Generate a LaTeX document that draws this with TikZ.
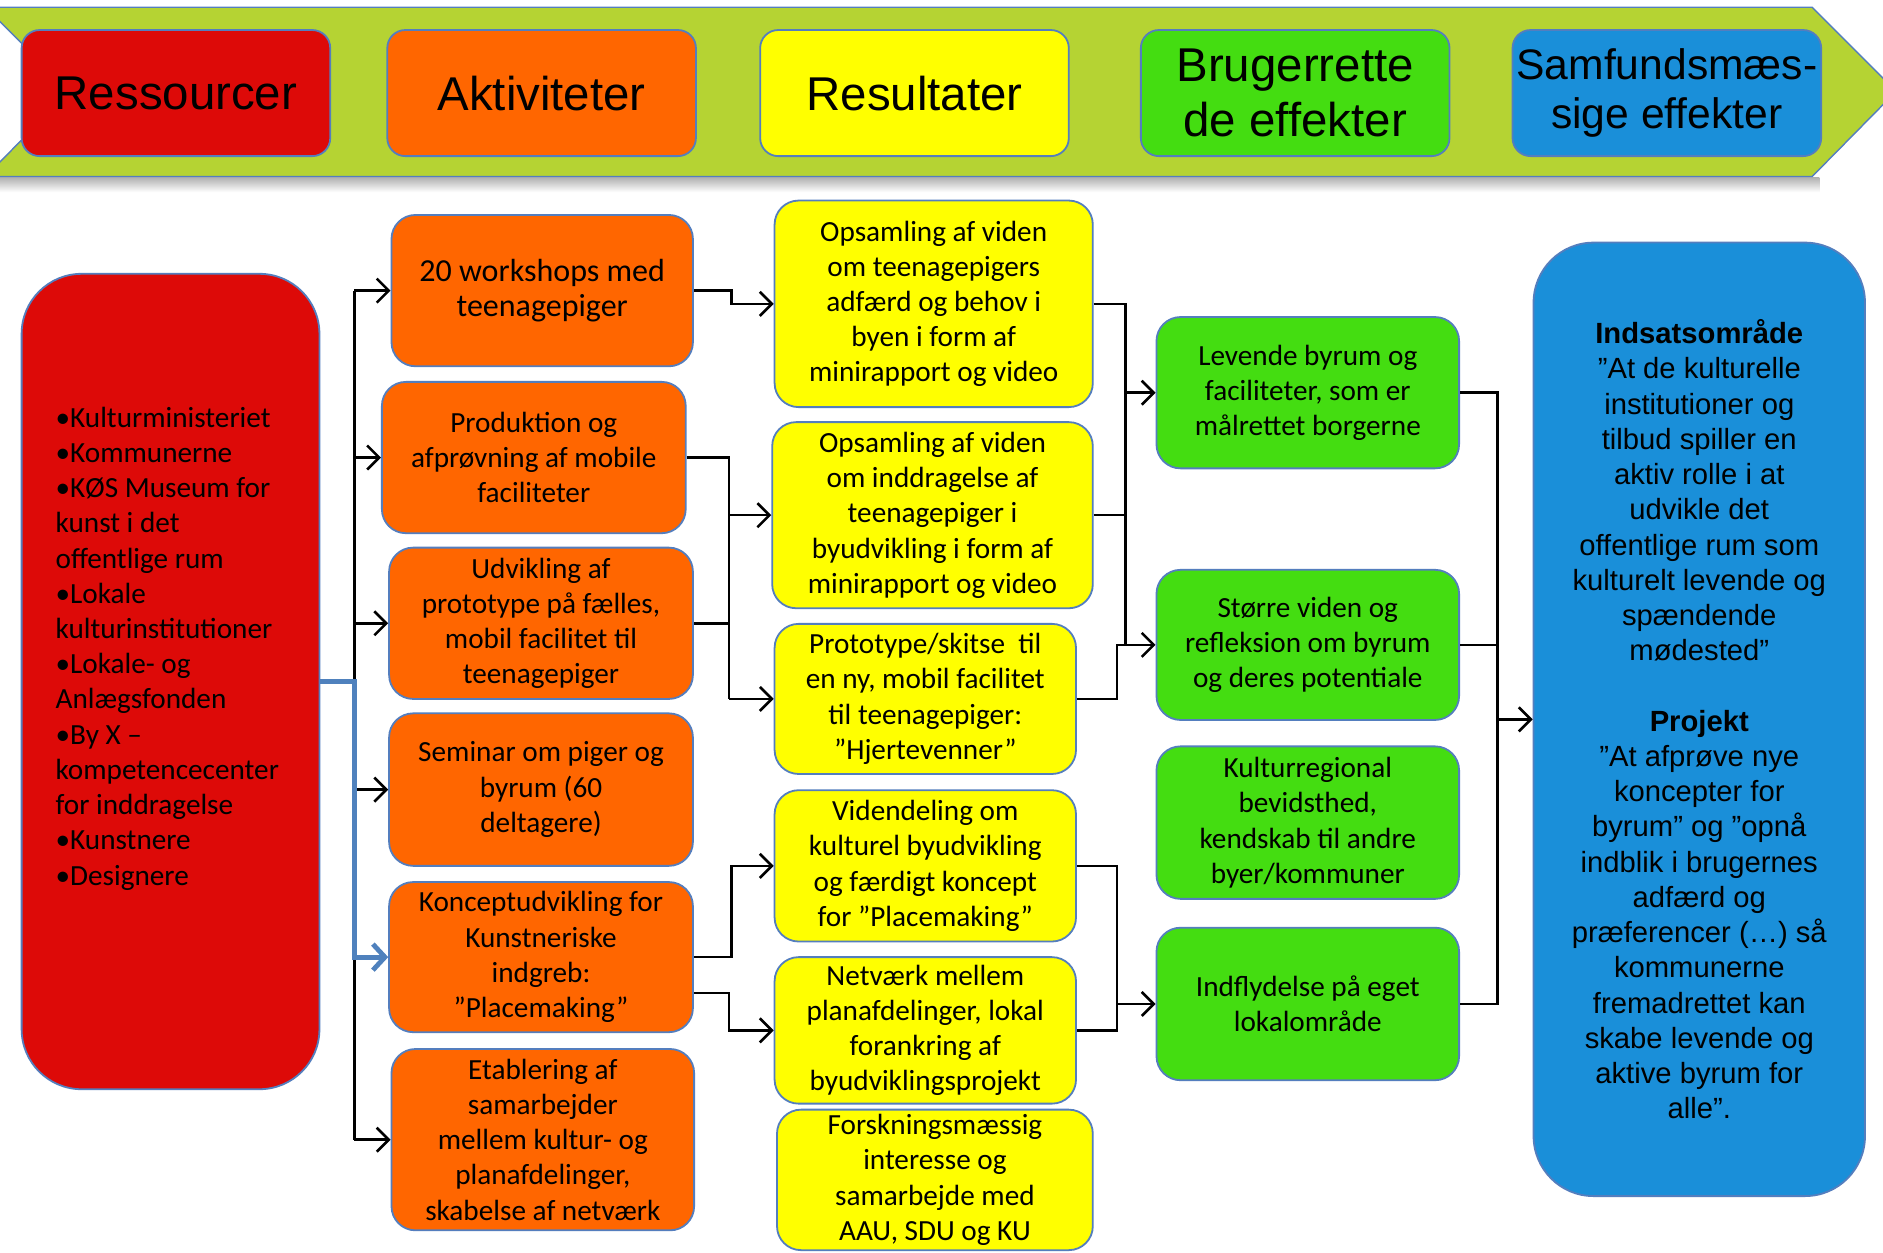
\documentclass[tikz,border=0pt]{standalone}
\usepackage{fontspec}
\setmainfont{Carlito}
\newfontfamily\arialf{Liberation Sans}
\usetikzlibrary{arrows.meta,calc}
\definecolor{bannerc}{RGB}{181,211,51}
\definecolor{bordc}{RGB}{84,126,190}
\definecolor{redc}{RGB}{221,10,8}
\definecolor{oranc}{RGB}{255,102,0}
\definecolor{yelc}{RGB}{255,255,0}
\definecolor{grnc}{RGB}{68,221,17}
\definecolor{bluec}{RGB}{26,143,217}
\definecolor{blueln}{RGB}{79,129,189}
\newcommand\mybody{\fontsize{14.6}{17.6}\selectfont}
\newcommand\myhead{\arialf\fontsize{23.7}{27.6}\selectfont}
\tikzset{
  bx/.style={draw=bordc, line width=0.9pt, rounded corners=12pt, align=center, inner sep=0pt, font=\mybody},
  hb/.style={draw=bordc, line width=0.9pt, rounded corners=9pt, align=center, inner sep=0pt, font=\myhead, minimum width=154.2pt, minimum height=63pt},
  ob/.style={bx, fill=oranc},
  yb/.style={bx, fill=yelc},
  gb/.style={bx, fill=grnc, minimum width=151.2pt},
  ln/.style={draw=black, line width=1.3pt},
  arr/.style={ln, -{Straight Barb[length=6pt,width=12pt]}},
  bluearr/.style={draw=blueln, line width=2.4pt, -{Straight Barb[length=6pt,width=13pt]}}
}
\begin{document}
\begin{tikzpicture}[x=0.6pt,y=-0.6pt]
\useasboundingbox (0,0) rectangle (1568,1043);
\clip (0,0) rectangle (1568,1043);
\fill[white] (0,0) rectangle (1568,1043);
% banner
\shade[top color=black!30, bottom color=white] (0,148) rectangle (1515,160);
\filldraw[fill=bannerc, draw=bordc, line width=0.7pt] (-12,6) -- (1509,6) -- (1579,76) -- (1509,147) -- (-12,147) -- (58,76) -- cycle;
\node[hb, fill=redc] (h1) at (146.5,77.5) {Ressourcer};
\node[hb, fill=oranc] (h2) at (451,77.5) {Aktiviteter};
\node[hb, fill=yelc] (h3) at (761.5,77.5) {Resultater};
\node[hb, fill=grnc] (h4) at (1078.5,77.5) {Brugerrette\\de effekter};
\node[hb, fill=bluec, font=\arialf\fontsize{21.3}{24.6}\selectfont] (h5) at (1388,77.5) {Samfundsmæs-\\sige effekter};
% resources
\node[bx, fill=redc, rounded corners=30pt, minimum width=148.8pt, minimum height=407.4pt] (res) at (142,567.5) {};
\node[font=\mybody, align=left, anchor=west, inner sep=0pt] (restext) at (46,540) {•Kulturministeriet\\•Kommunerne\\•KØS Museum for\\kunst i det\\offentlige rum\\•Lokale\\kulturinstitutioner\\•Lokale- og\\Anlægsfonden\\•By X –\\kompetencecenter\\for inddragelse\\•Kunstnere\\•Designere};
% activities
\node[ob, minimum width=150.6pt, minimum height=75.6pt, font=\fontsize{16}{17.6}\selectfont] (a1) at (451.5,242) {20 workshops med\\teenagepiger};
\node[ob, minimum width=151.8pt, minimum height=75.6pt] (a2) at (444.5,381) {Produktion og\\afprøvning af mobile\\faciliteter};
\node[ob, minimum width=151.8pt, minimum height=75.6pt] (a3) at (450.5,519) {Udvikling af\\prototype på fælles,\\mobil facilitet til\\teenagepiger};
\node[ob, minimum width=151.8pt, minimum height=76.2pt] (a4) at (450.5,657.5) {Seminar om piger og\\byrum (60\\deltagere)};
\node[ob, minimum width=151.8pt, minimum height=75pt] (a5) at (450.5,797) {Konceptudvikling for\\Kunstneriske\\indgreb:\\”Placemaking”};
\node[ob, minimum width=151.2pt, minimum height=90.6pt] (a6) at (452,949) {Etablering af\\samarbejder\\mellem kultur- og\\planafdelinger,\\skabelse af netværk};
% results
\node[yb, minimum width=159pt, minimum height=103.2pt] (r1) at (777.5,253) {Opsamling af viden\\om teenagepigers\\adfærd og behov i\\byen i form af\\minirapport og video};
\node[yb, minimum width=160.2pt, minimum height=93pt] (r2) at (776.5,429) {Opsamling af viden\\om inddragelse af\\teenagepiger i\\byudvikling i form af\\minirapport og video};
\node[yb, minimum width=150.6pt, minimum height=75pt] (r3) at (770.5,582) {Prototype/skitse\ \ til\\en ny, mobil facilitet\\til teenagepiger:\\”Hjertevenner”};
\node[yb, minimum width=150.6pt, minimum height=75.6pt] (r4) at (770.5,721) {Videndeling om\\kulturel byudvikling\\og færdigt koncept\\for ”Placemaking”};
\node[yb, minimum width=150.6pt, minimum height=73.2pt] (r5) at (770.5,858) {Netværk mellem\\planafdelinger, lokal\\forankring af\\byudviklingsprojekt};
\node[yb, minimum width=157.8pt, minimum height=70.2pt] (r6) at (778.5,982.5) {Forskningsmæssig\\interesse og\\samarbejde med\\AAU, SDU og KU};
% user effects
\node[gb, minimum height=75.6pt] (g1) at (1089,327) {Levende byrum og\\faciliteter, som er\\målrettet borgerne};
\node[gb, minimum height=75pt] (g2) at (1089,537) {Større viden og\\refleksion om byrum\\og deres potentiale};
\node[gb, minimum height=76.2pt] (g3) at (1089,685) {Kulturregional\\bevidsthed,\\kendskab til andre\\byer/kommuner};
\node[gb, minimum height=76.2pt] (g4) at (1089,836) {Indflydelse på eget\\lokalområde};
% societal effects
\node[bx, fill=bluec, rounded corners=30pt, minimum width=165.6pt, minimum height=476.4pt, font=\arialf\fontsize{14.6}{17.6}\selectfont] (goal) at (1415,599) {\textbf{Indsatsområde}\\”At de kulturelle\\institutioner og\\tilbud spiller en\\aktiv rolle i at\\udvikle det\\offentlige rum som\\kulturelt levende og\\spændende\\mødested”\\[17.6pt]\textbf{Projekt}\\”At afprøve nye\\koncepter for\\byrum” og ”opnå\\indblik i brugernes\\adfærd og\\præferencer (…) så\\kommunerne\\fremadrettet kan\\skabe levende og\\aktive byrum for\\alle”.};
% junction columns
\coordinate (tr) at (295,0);
\coordinate (j1) at (609,0);
\coordinate (j2) at (607,0);
\coordinate (j3) at (937,0);
\coordinate (j4) at (930,0);
\coordinate (j5) at (1247,0);
% trunk from resources to activities
\draw[ln] (tr |- a1.west) -- (tr |- a6.west);
\draw[arr] (tr |- a1.west) -- (a1.west);
\draw[arr] (tr |- a2.west) -- (a2.west);
\draw[arr] (tr |- a3.west) -- (a3.west);
\draw[arr] (tr |- a4.west) -- (a4.west);
\draw[arr] (tr |- a6.west) -- (a6.west);
\draw[bluearr] (res.east) -- (tr |- res.east) |- (a5.west);
% activities to results
\draw[arr] (a1.east) -- (j1 |- a1.east) |- (r1.west);
\draw[ln] (a2.east) -- (j2 |- a2.east) -- (j2 |- r3.west);
\draw[ln] (a3.east) -- (j2 |- a3.east);
\draw[arr] (j2 |- r2.west) -- (r2.west);
\draw[arr] (j2 |- r3.west) -- (r3.west);
\draw[arr] (a5.east) -- (j1 |- a5.east) |- (r4.west);
\draw[arr] ([yshift=-18pt]a5.east) -- ([yshift=-18pt]j2 |- a5.east) |- (r5.west);
% results to user effects
\draw[ln] (r1.east) -- (j3 |- r1.east) -- (j3 |- g2.west);
\draw[ln] (r2.east) -- (j3 |- r2.east);
\draw[arr] (j3 |- g1.west) -- (g1.west);
\draw[arr] (r3.east) -- (j4 |- r3.east) |- (g2.west);
\draw[ln] (r4.east) -- (j4 |- r4.east) -- (j4 |- r5.east) -- (r5.east);
\draw[arr] (j4 |- g4.west) -- (g4.west);
% user effects to societal effects
\draw[ln] (g1.east) -- (j5 |- g1.east) -- (j5 |- g4.east) -- (g4.east);
\draw[ln] (g2.east) -- (j5 |- g2.east);
\draw[arr] (j5 |- goal.west) -- (goal.west);
\end{tikzpicture}
\end{document}
